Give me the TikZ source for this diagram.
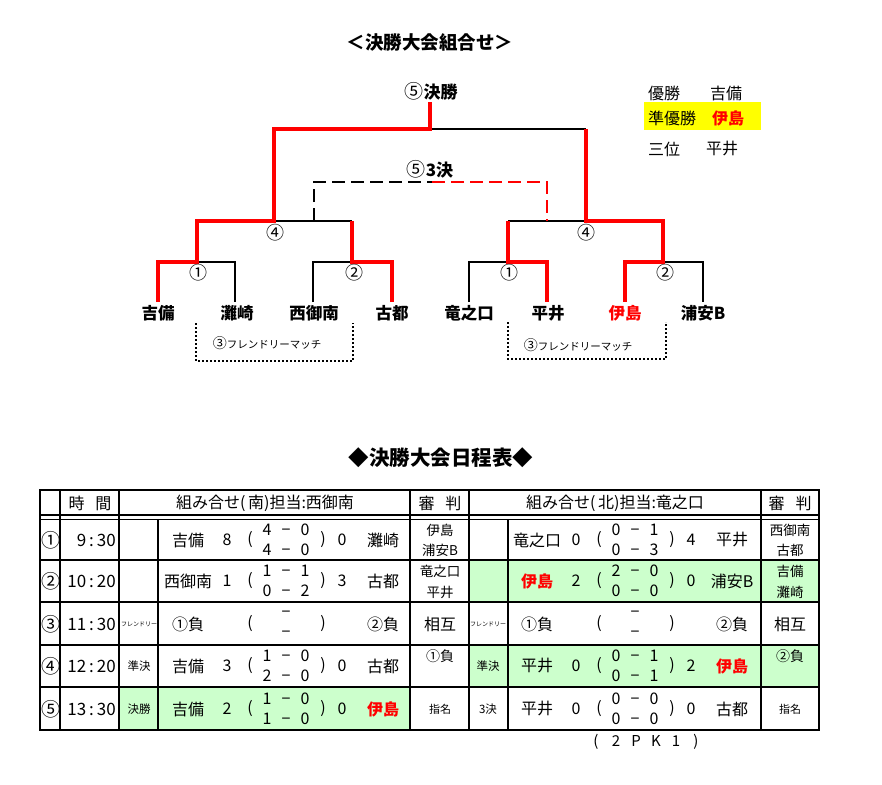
\documentclass[tikz,border=0pt]{standalone}
\usepackage{fontspec}
\setmainfont{Noto Sans CJK JP}
\newcommand\fs[1]{\fontsize{#1}{#1}\selectfont}
\newcommand\rd{\bfseries\color{red}}
\newcommand\scl[2]{\makebox[19pt]{#1}\makebox[19pt]{−}\makebox[19pt]{#2}}
\definecolor{lg}{HTML}{CCFFCC}
\definecolor{yl}{HTML}{FFFF00}
\newcommand\mt[9]{%
 \node[tt] (#1a) at (#2,#3) {#4};
 \node[tt] (#1b) at ({#2+39},#3) {#5};
 \node[tt] (#1c) at ({#2+62},#3) {(};
 \node[tt] (#1d) at ({#2+98},{#3-10}) {#6};
 \node[tt] (#1e) at ({#2+98},{#3+10}) {#7};
 \node[tt] (#1f) at ({#2+135},#3) {)};
 \node[tt] (#1g) at ({#2+154},#3) {#8};
 \node[tt] (#1h) at ({#2+195},#3) {#9};
}
\begin{document}
\begin{tikzpicture}[x=1pt,y=-1pt,
 redl/.style={draw=red, line width=4pt},
 blkl/.style={draw=black, line width=2pt},
 dashblk/.style={draw=black, line width=2.8pt, dash pattern=on 13pt off 6pt},
 dashred/.style={draw=red, line width=2.8pt, dash pattern=on 13pt off 6pt},
 dotl/.style={draw=black, line width=1.6pt, dash pattern=on 1.6pt off 2.4pt},
 team/.style={font=\fs{16.5}\bfseries, inner sep=0},
 rnd/.style={font=\fs{18}, inner sep=0},
 ttl/.style={font=\bfseries, inner sep=0},
 tt/.style={font=\fs{16}, inner sep=0},
 cn/.style={font=\fs{19}, inner sep=0},
 hd/.style={font=\fs{16}, inner sep=0},
 tm/.style={font=\fs{17}, inner sep=0, anchor=east},
 sm/.style={font=\fs{11.5}, inner sep=0},
 tiny/.style={font=\fs{6}, inner sep=0},
 ref/.style={font=\fs{13.5}, inner sep=0},
 lgd/.style={font=\fs{16}, inner sep=0, anchor=west}
]
\useasboundingbox (0,0) rectangle (882,784);
\fill[white] (0,0) rectangle (882,784);

% ---------- titles
\node[ttl, font=\fs{18.5}\bfseries] (title1) at (430,42) {＜決勝大会組合せ＞};
\node[ttl, font=\fs{20.5}\bfseries] (title2) at (441,458) {◆決勝大会日程表◆};

% ---------- bracket coordinates
\coordinate (a1) at (158,302); \coordinate (a2) at (235,302);
\coordinate (a3) at (313,302); \coordinate (a4) at (392,302);
\coordinate (a5) at (469,302); \coordinate (a6) at (547,302);
\coordinate (a7) at (625,302); \coordinate (a8) at (703,302);
\coordinate (m1) at (197,262); \coordinate (m2) at (352,262);
\coordinate (m3) at (508,262); \coordinate (m4) at (663,262);
\coordinate (s1) at (274,221); \coordinate (s2) at (586,221);
\coordinate (f) at (430,129); \coordinate (ftop) at (430,102);
\coordinate (q1) at (314,221); \coordinate (q3) at (314,182);
\coordinate (q4) at (432,182); \coordinate (q5) at (547,182);
\coordinate (q2) at (547,221);

% black lines
\draw[blkl] (m1) -| (a2);
\draw[blkl] (a3) |- (m2);
\draw[blkl] (s1) -- (m2 |- s1);
\draw[blkl] (f) -- (f -| s2);
\draw[blkl] (m3 |- s2) -- (s2);
\draw[blkl] (a5) |- (m3);
\draw[blkl] (m4) -| (a8);
% third place dashed
\draw[dashblk] (q1) -- (q3) -- (q4);
\draw[dashred] (q4) -- (q5) -- (q2);
% red winner lines
\draw[redl] (a1) |- (m1) |- (s1) |- (f) -- (ftop);
\draw[redl] (a4) |- (m2) -- (m2 |- s1);
\draw[redl] (f -| s2) -- (s2) -| (m4) -| (a7);
\draw[redl] (m3 |- s2) -- (m3) -| (a6);

% bracket labels
\node[ttl, font=\fs{17}\bfseries] (lfin) at (431,91) {{\fs{19}\mdseries ⑤}決勝};
\node[ttl, font=\fs{17}\bfseries] (l3rd) at (430,169) {{\fs{19}\mdseries ⑤}3決};
\node[rnd] (r1) at (198,273) {①};
\node[rnd] (r2) at (354,273) {②};
\node[rnd] (r4) at (275,233) {④};
\node[rnd] (r1b) at (509,273) {①};
\node[rnd] (r2b) at (665,273) {②};
\node[rnd] (r4b) at (586,233) {④};

% teams
\node[team] (t1) at (158,313) {吉備};
\node[team] (t2) at (237,313) {灘崎};
\node[team] (t3) at (314,313) {西御南};
\node[team] (t4) at (392,313) {古都};
\node[team] (t5) at (469,313) {竜之口};
\node[team] (t6) at (548,313) {平井};
\node[team, text=red] (t7) at (625,313) {伊島};
\node[team] (t8) at (703,313) {浦安B};

% friendly match boxes
\draw[dotl] (196,323) -- (196,361) -- (353,361) -- (353,323);
\draw[dotl] (508,322) -- (508,359) -- (666,359) -- (666,322);
\node[inner sep=0] (fm1) at (267,343) {{\fs{14}③}{\fs{10.5}フレンドリーマッチ}};
\node[inner sep=0] (fm2) at (578,345) {{\fs{14}③}{\fs{10.5}フレンドリーマッチ}};

% legend
\fill[yl] (644,102) rectangle (761,130);
\node[lgd] (g1) at (648,93) {優勝};
\node[lgd] (g2) at (710,93) {吉備};
\node[lgd] (g3) at (648,118) {準優勝};
\node[lgd, font=\fs{16}\bfseries, text=red] (g4) at (712,118) {伊島};
\node[lgd] (g5) at (648,149) {三位};
\node[lgd] (g6) at (706,149) {平井};

% ---------- table fills
\fill[lg] (469,560) rectangle (819,602);
\fill[lg] (469,645) rectangle (819,687);
\fill[lg] (119,687) rectangle (410,730);

% table lines
\draw[line width=1.5pt] (40,515) -- (819,515);
\draw[line width=1.5pt] (40,519.5) -- (819,519.5);
\foreach \yy in {560,602,645,687} \draw[line width=1.8pt] (40,\yy) -- (819,\yy);
\foreach \xx in {60,119,410,469,761} \draw[line width=2.2pt] (\xx,490) -- (\xx,730);
\foreach \xx in {158,508} \draw[line width=1.3pt] (\xx,519) -- (\xx,730);
\draw[line width=2.6pt] (40,490) rectangle (819,730);

% header
\node[hd] (h1) at (90,503) {時\hspace{11pt}間};
\node[hd] (h2) at (265,503) {組み合せ(\,南)担当:西御南};
\node[hd] (h3) at (440,503) {審\hspace{11pt}判};
\node[hd] (h4) at (615,503) {組み合せ(\,北)担当:竜之口};
\node[hd] (h5) at (790,503) {審\hspace{11pt}判};

% row numbers and times
\node[cn] (n1) at (51,540) {①};
\node[cn] (n2) at (51,581) {②};
\node[cn] (n3) at (51,624) {③};
\node[cn] (n4) at (51,666) {④};
\node[cn] (n5) at (51,709) {⑤};
\node[tm] (tm1) at (116,540) {9\hspace{3pt}:\hspace{3pt}30};
\node[tm] (tm2) at (116,581) {10\hspace{3pt}:\hspace{3pt}20};
\node[tm] (tm3) at (116,624) {11\hspace{3pt}:\hspace{3pt}30};
\node[tm] (tm4) at (116,666) {12\hspace{3pt}:\hspace{3pt}20};
\node[tm] (tm5) at (116,709) {13\hspace{3pt}:\hspace{3pt}30};

% small labels
\node[tiny] (fr1) at (139,624) {フレンドリー};
\node[sm] (sk1) at (139,666) {準決};
\node[sm] (sk2) at (139,709) {決勝};
\node[tiny] (fr2) at (488,624) {フレンドリー};
\node[sm] (sk3) at (488,666) {準決};
\node[sm] (sk4) at (488,709) {3決};

% matches south
\mt{ma}{188}{540}{吉備}{8}{\scl{4}{0}}{\scl{4}{0}}{0}{灘崎}
\mt{mb}{188}{581}{西御南}{1}{\scl{1}{1}}{\scl{0}{2}}{3}{古都}
\mt{mc}{188}{624}{①負}{}{−}{−}{}{②負}
\mt{md}{188}{666}{吉備}{3}{\scl{1}{0}}{\scl{2}{0}}{0}{古都}
\mt{me}{188}{709}{吉備}{2}{\scl{1}{0}}{\scl{1}{0}}{0}{{\rd 伊島}}
% matches north
\mt{na}{537}{540}{竜之口}{0}{\scl{0}{1}}{\scl{0}{3}}{4}{平井}
\mt{nb}{537}{581}{{\rd 伊島}}{2}{\scl{2}{0}}{\scl{0}{0}}{0}{浦安B}
\mt{nc}{537}{624}{①負}{}{−}{−}{}{②負}
\mt{nd}{537}{666}{平井}{0}{\scl{0}{1}}{\scl{0}{1}}{2}{{\rd 伊島}}
\mt{ne}{537}{709}{平井}{0}{\scl{0}{0}}{\scl{0}{0}}{0}{古都}

% referees
\node[ref] (ja1) at (440,530) {伊島};
\node[ref] (ja2) at (440,550) {浦安B};
\node[ref] (jb1) at (440,571) {竜之口};
\node[ref] (jb2) at (440,592) {平井};
\node[tt] (jc) at (440,624) {相互};
\node[font=\fs{14}, inner sep=0] (jd) at (440,656) {①負};
\node[sm, font=\fs{11}] (je) at (440,709) {指名};
\node[ref] (ka1) at (790,530) {西御南};
\node[ref] (ka2) at (790,550) {古都};
\node[ref] (kb1) at (790,571) {吉備};
\node[ref] (kb2) at (790,592) {灘崎};
\node[tt] (kc) at (790,624) {相互};
\node[font=\fs{14}, inner sep=0] (kd) at (790,656) {②負};
\node[sm, font=\fs{11}] (ke) at (790,709) {指名};

% PK note
\node[font=\fs{15}, inner sep=0] (pk) at (646,742) {\makebox[20pt]{(}\makebox[20pt]{2}\makebox[20pt]{P}\makebox[20pt]{K}\makebox[20pt]{1}\makebox[20pt]{)}};
\end{tikzpicture}
\end{document}
